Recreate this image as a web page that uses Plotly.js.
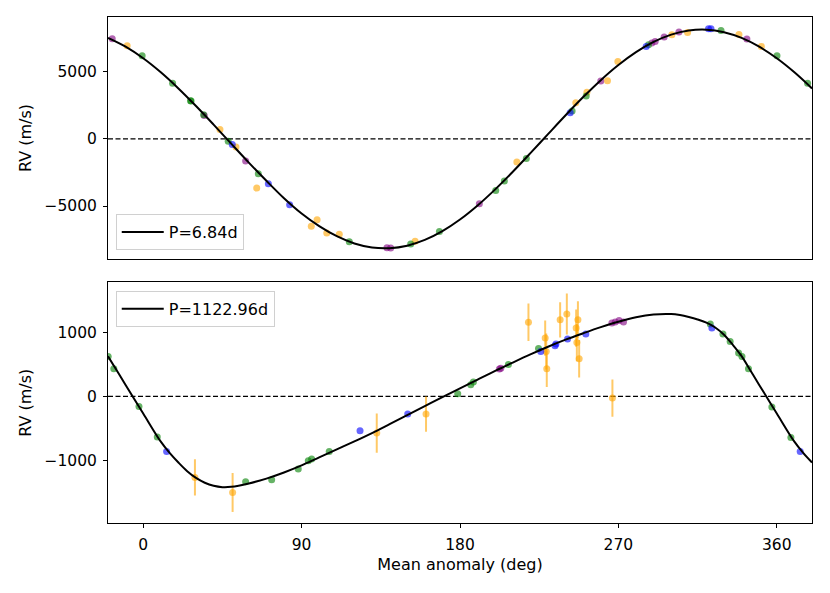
<!DOCTYPE html>
<html>
<head>
<meta charset="utf-8">
<script src="https://cdn.plot.ly/plotly-3.0.1.min.js"></script>
<style>html,body{margin:0;padding:0;background:#fff;}#plot{width:830px;height:593px;}</style>
</head>
<body>
<div id="plot"></div>
<script>
// ---------- Panel 1: P = 6.84 d ----------
const topLabel = 'P=6.84d';
const topCurveX = [-20,-10,0,10,20,30,40,50,60,70,80,90,100,110,120,130,140,150,160,170,180,190,200,210,220,230,240,250,260,270,280,290,300,310,320,330,340,350,360,370,380];
const topCurveY = [7530,6874,6009,4962,3763,2451,1064,-355,-1764,-3119,-4420,-5560,-6500,-7250,-7790,-8090,-8140,-7957,-7530,-6874,-6009,-4962,-3763,-2451,-1064,355,1764,3119,4379,5506,6466,7229,7773,8080,8142,7957,7530,6874,6009,4962,3763];

const topPurpleX = [-17.6,34.7,58.2,138.5,140.6,191,260,289,290.9,296,304.4,343];
const topPurpleY = [7462,1751,-1647,-8120,-8129,-4837,4319,7141,7260,7590,7964,7440];
const topOrangeX = [-9.1,43.6,52.7,64.5,95.5,98.8,104.3,111.4,154.5,212.3,245.8,252.1,263.8,269.7,300.4,309.3,338.5,351.2];
const topOrangeY = [6939,703,-599,-3667,-6512,-6033,-7006,-7111,-7633,-1722,2695,3473,4341,5763,7762,7934,7784,6886];
const topGreenX = [-0.6,16.7,26.9,27.2,34.3,48.3,65.4,117.1,152,168.3,200.3,205.2,217.7,243.7,251.7,287.1,328.3,360.1,377.5];
const topGreenY = [6190,4147,2844,2820,1800,-172,-2590,-7657,-7830,-6909,-3840,-3144,-1467,2073,3196,7013,8084,6190,4147];
const topBlueX = [50.6,71.1,83.2,242.6,285.8,321.2,322.6];
const topBlueY = [-419,-3338,-4910,1946,6886,8211,8211];

// ---------- Panel 2: P = 1122.96 d ----------
const botLabel = 'P=1122.96d';
const botCurveX = [-20,-15,-10,0,10,15,20,25,30,35,40,45,50,60,70,80,90,100,110,120,130,140,150,160,170,180,190,200,210,220,230,240,250,260,270,280,290,300,305,310,315,320,325,330,335,340,345,350,360,370,375,380];
const botCurveY = [625,405,180,-265,-705,-880,-1030,-1165,-1270,-1345,-1392,-1413,-1408,-1355,-1280,-1185,-1075,-950,-825,-700,-570,-432,-292,-150,-10,125,262,398,528,655,775,885,985,1080,1165,1235,1278,1285,1268,1238,1200,1150,1075,962,805,628,405,180,-265,-705,-880,-1030];

const botGreenX = [-19.9,-16.7,-2.4,8,58.2,73,88.1,93.8,95.7,105.7,178.7,186.1,187.6,207.5,224.6,322.2,329.4,333.5,338.3,340.2,343.9,357.2,368];
const botGreenY = [623,432,-156,-633,-1329,-1298,-1131,-1002,-975,-857,42,182,224,500,746,1128,972,857,676,623,432,-165,-639];
const botBlueX = [13.3,123.2,150.3,225.9,234,234.5,241.1,251.5,323.1,373.3];
const botBlueY = [-857,-534,-275,701,790,816,894,972,1066,-857];
const botPurpleX = [202.4,203.2,266.3,268.2,270.4,272.9];
const botPurpleY = [427,440,1143,1159,1184,1159];
const botOrangeX = [29.4,50.8,132.7,160.7,218.9,228.4,229,229.3,236.9,240.7,246,247,246.4,247.7,266.6];
const botOrangeY = [-1262,-1496,-571,-275,1156,910,700,432,1195,1284,1066,1195,840,587,-25];
const botOrangeErr = [283,304,306,275,293,275,280,285,275,319,290,290,290,293,291];

// ---------- axis ticks ----------
const xTicks = [0,90,180,270,360];
const topYTicks = [-5000,0,5000];
const botYTicks = [-1000,0,1000];
const zeroLevel = 0;

const FONT = 'DejaVu Sans';
const C = {
  purple: 'rgba(128,0,128,0.6)',
  orange: 'rgba(255,165,0,0.6)',
  green: 'rgba(0,128,0,0.6)',
  blue: 'rgba(0,0,255,0.6)'
};

function pts(x, y, color, xa, ya, err) {
  const t = {
    x: x, y: y, type: 'scatter', mode: 'markers', xaxis: xa, yaxis: ya,
    showlegend: false, hoverinfo: 'skip',
    marker: {size: 7, color: color, line: {width: 0}}
  };
  if (err) {
    t.error_y = {type: 'data', array: err, visible: true, color: color, thickness: 2, width: 0};
  }
  return t;
}

const traces = [
  pts(topPurpleX, topPurpleY, C.purple, 'x2', 'y2'),
  pts(topOrangeX, topOrangeY, C.orange, 'x2', 'y2'),
  pts(topGreenX, topGreenY, C.green, 'x2', 'y2'),
  pts(topBlueX, topBlueY, C.blue, 'x2', 'y2'),
  {x: topCurveX, y: topCurveY, type: 'scatter', mode: 'lines', xaxis: 'x2', yaxis: 'y2',
   name: topLabel, legend: 'legend', line: {color: 'black', width: 2, shape: 'spline', smoothing: 1}, hoverinfo: 'skip'},
  pts(botOrangeX, botOrangeY, C.orange, 'x', 'y', botOrangeErr),
  pts(botGreenX, botGreenY, C.green, 'x', 'y'),
  pts(botBlueX, botBlueY, C.blue, 'x', 'y'),
  pts(botPurpleX, botPurpleY, C.purple, 'x', 'y'),
  {x: botCurveX, y: botCurveY, type: 'scatter', mode: 'lines', xaxis: 'x', yaxis: 'y',
   name: botLabel, legend: 'legend2', line: {color: 'black', width: 2, shape: 'spline', smoothing: 1}, hoverinfo: 'skip'}
];

const axBase = {
  showline: true, mirror: true, linecolor: 'black', linewidth: 1,
  showgrid: false, zeroline: false,
  ticks: 'outside', ticklen: 4, tickwidth: 1, tickcolor: 'black',
  ticklabelstandoff: 3,
  tickfont: {family: FONT, size: 15.5, color: 'black'}
};

const legBase = {
  bgcolor: 'white', bordercolor: '#d0d0d0', borderwidth: 1,
  font: {family: FONT, size: 16, color: 'black'},
  itemwidth: 42,
  xanchor: 'left', x: 0.011
};

const titleFont = {family: FONT, size: 16, color: 'black'};

const layout = {
  width: 830, height: 593,
  margin: {l: 108, r: 18, t: 17, b: 70},
  paper_bgcolor: 'white', plot_bgcolor: 'white',
  font: {family: FONT, size: 15, color: 'black'},
  showlegend: true,
  xaxis: Object.assign({}, axBase, {
    domain: [0, 1], anchor: 'y', range: [-20, 380], tickvals: xTicks,
    title: {text: 'Mean anomaly (deg)', font: titleFont, standoff: 6}
  }),
  yaxis: Object.assign({}, axBase, {
    domain: [0, 0.4753], anchor: 'x', range: [-1972, 1776], tickvals: botYTicks,
    title: {text: 'RV (m/s)', font: titleFont, standoff: 8}
  }),
  xaxis2: Object.assign({}, axBase, {
    domain: [0, 1], anchor: 'y2', range: [-20, 380], tickvals: xTicks,
    showticklabels: false, ticks: ''
  }),
  yaxis2: Object.assign({}, axBase, {
    domain: [0.5217, 1], anchor: 'x2', range: [-8952, 9087], tickvals: topYTicks,
    title: {text: 'RV (m/s)', font: titleFont, standoff: 8}
  }),
  legend: Object.assign({}, legBase, {y: 0.5395, yanchor: 'bottom'}),
  legend2: Object.assign({}, legBase, {y: 0.459, yanchor: 'top'}),
  shapes: [
    {type: 'line', xref: 'x2 domain', x0: 0, x1: 1, yref: 'y2', y0: zeroLevel, y1: zeroLevel,
     line: {color: 'black', width: 1.2, dash: '5px,2.5px'}, layer: 'below'},
    {type: 'line', xref: 'x domain', x0: 0, x1: 1, yref: 'y', y0: zeroLevel, y1: zeroLevel,
     line: {color: 'black', width: 1.2, dash: '5px,2.5px'}, layer: 'below'}
  ]
};

Plotly.newPlot('plot', traces, layout, {staticPlot: true, displayModeBar: false});
</script>
</body>
</html>
